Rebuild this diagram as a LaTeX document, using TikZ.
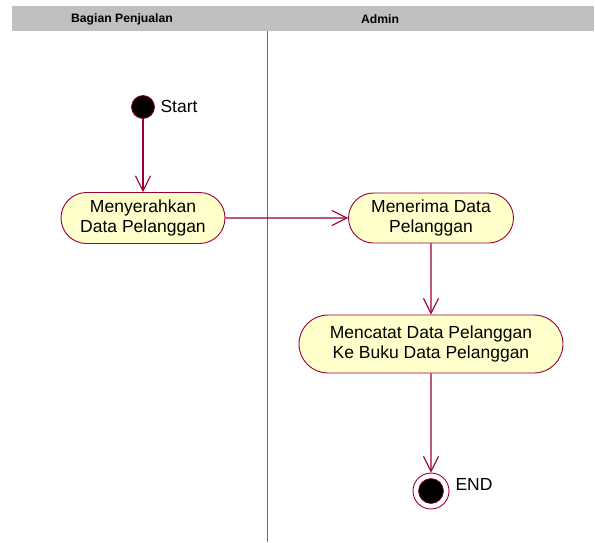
\documentclass[tikz,border=0pt]{standalone}
\usepackage{fontspec}
\setmainfont{Liberation Sans}
\usetikzlibrary{shapes.misc,arrows.meta}
\definecolor{umlline}{HTML}{990033}
\definecolor{laneline}{HTML}{C0407A}
\definecolor{umlfill}{HTML}{FFFFCC}
\definecolor{lanegray}{HTML}{C0C0C0}
\tikzset{
  activity/.style={rounded rectangle,draw=umlline,fill=umlfill,line width=0.9pt,
    align=center,inner sep=0pt,font=\fontsize{17.5}{20}\selectfont},
  flow/.style={draw=umlline,line width=1.1pt,-{Straight Barb[length=15pt,width=15pt,line width=1.1pt]}},
  lanehead/.style={font=\fontsize{12.2}{14}\selectfont\bfseries},
  label text/.style={font=\fontsize{17.5}{20}\selectfont}
}
\begin{document}
\begin{tikzpicture}[x=1pt,y=-1pt]
		\useasboundingbox (0,0) rectangle (595,542);
		% swimlanes
		\fill [lanegray] (12,6) rectangle (594,31);
		\draw [laneline,line width=1pt] (267,31) -- (267,542);
		\node [lanehead] (laneA) at (122,19) {Bagian Penjualan};
		\node [lanehead] (laneB) at (380,19) {Admin};
		% start and end
		\node [circle,draw=umlline,fill=black,line width=0.8pt,minimum size=23pt,inner sep=0pt] (start) at (143,107) {};
		\node [label text,anchor=west] (startlbl) at (157,106) {Start};
		\node [circle,draw=umlline,line width=0.9pt,minimum size=36pt,inner sep=0pt] (end) at (431,491) {};
		\fill [black,draw=umlline,line width=0.6pt] (end) circle (12.5pt);
		\node [label text,anchor=west] (endlbl) at (452,484) {END};
		% activities
		\node [activity,minimum width=164pt,minimum height=51pt] (serah) at (143,218) {Menyerahkan\\Data Pelanggan};
		\node [activity,minimum width=165pt,minimum height=50pt] (terima) at (431,218) {Menerima Data\\Pelanggan};
		\node [activity,minimum width=264pt,minimum height=58pt] (catat) at (431,344) {Mencatat Data Pelanggan\\Ke Buku Data Pelanggan};
		% flows
		\draw [flow] (start) -- (serah);
		\draw [flow] (serah) -- (terima);
		\draw [flow] (terima) -- (catat);
		\draw [flow] (catat) -- (end);
	\end{tikzpicture}
\end{document}
